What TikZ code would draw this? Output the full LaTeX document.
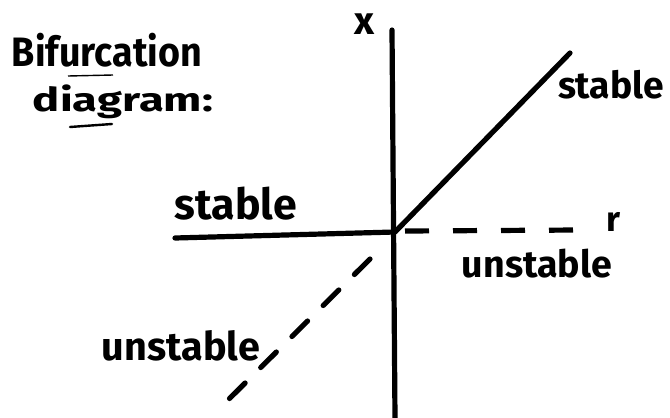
\documentclass[tikz,border=0pt]{standalone}
\usepackage{fontspec}
\setmainfont{Fira Sans}
\usepackage{graphicx}
\newcommand\fitw[2]{\resizebox{#1}{!}{\bfseries #2}}
\newcommand\fitwh[3]{\resizebox*{#1}{#2}{\bfseries #3}}
\begin{document}
\begin{tikzpicture}[x=0.5pt,y=-0.5pt,
  ink/.style={line width=2.6pt,line cap=round},
  dashh/.style={ink,line cap=butt,dash pattern=on 12pt off 12pt},
  dashd/.style={ink,line cap=round,dash pattern=on 11pt off 11pt},
  lbl/.style={inner sep=0pt,anchor=center}]
\useasboundingbox (0,0) rectangle (670,418);
% axes
\coordinate (O) at (395,232);
\coordinate (xtop) at (392,30);
\coordinate (xbot) at (395,418);
\coordinate (lend) at (175,238);
\coordinate (dstart) at (405,231);
\coordinate (rend) at (580,230);
\coordinate (send) at (570,53);
\coordinate (ustart) at (370,259);
\coordinate (uend) at (225,403);
\draw[ink] (xtop) -- (xbot);
\draw[ink] (lend) -- (O);
\draw[dashh] (dstart) -- (rend);
\draw[ink] (O) -- (send);
\draw[dashd] (ustart) -- (uend);
% labels
\node[lbl] (xl) at (365,24) {\fitw{10pt}{x}};
\node[lbl] (rl) at (613,222) {\fitw{7pt}{r}};
\node[lbl] (s1) at (611,85) {\fitw{53pt}{stable}};
\node[lbl] (s2) at (236,204) {\fitw{61pt}{stable}};
\node[lbl] (u1) at (537,264) {\fitw{75pt}{unstable}};
\node[lbl] (u2) at (181,346) {\fitw{79pt}{unstable}};
\node[lbl] (t1) at (107,50) {\fitwh{95pt}{17pt}{Bifurcation}};
\node[lbl] (t2) at (123,102) {\fitwh{90pt}{17pt}{diagram:}};
\coordinate (ua) at (68,76);
\coordinate (ub) at (113,75);
\coordinate (uc) at (70,127);
\coordinate (ud) at (112,124);
\draw[line width=0.7pt] (ua) -- (ub);
\draw[line width=1.2pt,line cap=round] (uc) -- (ud);
\end{tikzpicture}
\end{document}
